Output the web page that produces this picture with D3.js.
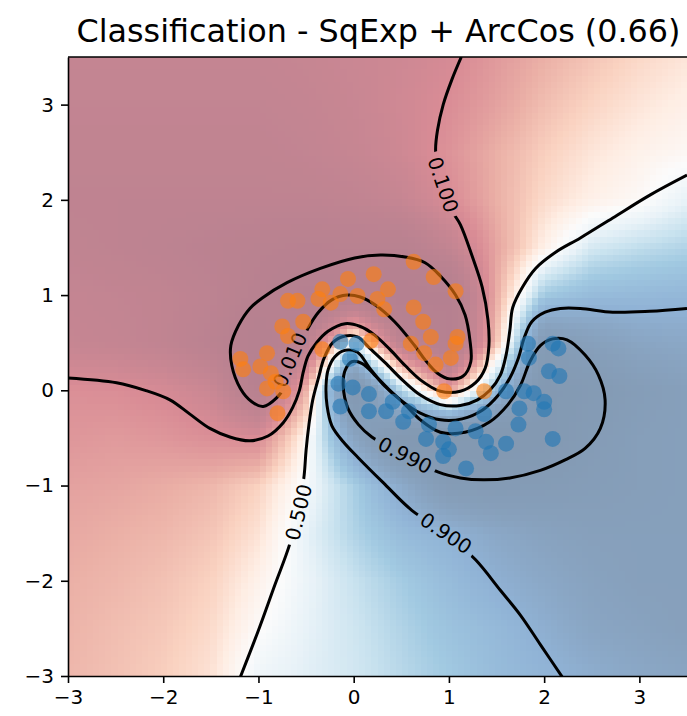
<!DOCTYPE html>
<html>
<head>
<meta charset="utf-8">
<script src="https://cdn.jsdelivr.net/npm/d3@7"></script>
<style>
  body { margin: 0; background: #fff; }
  text { font-family: "DejaVu Sans", sans-serif; }
</style>
</head>
<body>
<script>
// ---- data ---------------------------------------------------------------

// Predicted probability of the blue class on a coarse grid
// (columns: x from -3 to 3.5, rows: y from 3.5 down to -3, step 0.5)
const gridX = [-3, -2.5, -2, -1.5, -1, -0.5, 0, 0.5, 1, 1.5, 2, 2.5, 3, 3.5];
const gridY = [3.5, 3, 2.5, 2, 1.5, 1, 0.5, 0, -0.5, -1, -1.5, -2, -2.5, -3];
const probRows = [
  [0.045, 0.045, 0.045, 0.045, 0.045, 0.05, 0.06, 0.07, 0.09, 0.14, 0.2, 0.26, 0.32, 0.37],
  [0.04, 0.04, 0.04, 0.04, 0.04, 0.045, 0.055, 0.075, 0.105, 0.16, 0.24, 0.31, 0.37, 0.42],
  [0.035, 0.035, 0.035, 0.035, 0.035, 0.04, 0.05, 0.07, 0.12, 0.2, 0.29, 0.37, 0.43, 0.47],
  [0.03, 0.03, 0.03, 0.03, 0.03, 0.03, 0.035, 0.05, 0.1, 0.2, 0.33, 0.42, 0.48, 0.6],
  [0.035, 0.03, 0.025, 0.02, 0.016, 0.013, 0.015, 0.014, 0.04, 0.17, 0.42, 0.66, 0.72, 0.76],
  [0.045, 0.04, 0.035, 0.025, 0.012, 0.005, 0.008, 0.004, 0.006, 0.19, 0.8, 0.86, 0.87, 0.88],
  [0.05, 0.045, 0.035, 0.02, 0.006, 0.025, 0.6, 0.03, 0.006, 0.25, 0.985, 0.97, 0.95, 0.94],
  [0.11, 0.105, 0.09, 0.06, 0.012, 0.2, 0.995, 0.75, 0.15, 0.85, 0.995, 0.99, 0.98, 0.97],
  [0.13, 0.14, 0.13, 0.11, 0.1, 0.45, 0.95, 0.995, 0.997, 0.997, 0.995, 0.985, 0.975, 0.97],
  [0.16, 0.17, 0.19, 0.22, 0.3, 0.53, 0.78, 0.93, 0.985, 0.988, 0.985, 0.98, 0.975, 0.97],
  [0.18, 0.2, 0.22, 0.26, 0.36, 0.6, 0.76, 0.86, 0.9, 0.94, 0.96, 0.97, 0.97, 0.97],
  [0.2, 0.22, 0.25, 0.3, 0.43, 0.58, 0.7, 0.79, 0.86, 0.91, 0.94, 0.96, 0.97, 0.97],
  [0.21, 0.24, 0.27, 0.33, 0.49, 0.6, 0.68, 0.76, 0.83, 0.87, 0.915, 0.95, 0.96, 0.97],
  [0.22, 0.25, 0.29, 0.36, 0.57, 0.62, 0.67, 0.74, 0.8, 0.86, 0.89, 0.92, 0.94, 0.95]
];

// Training points, class 0 (orange)
const orangeX = [-0.06, 0.21, 0.63, 0.84, 1.07, -0.33, -0.14, -0.37, -0.69, -0.59, -0.24, 0.04, 0.25, 0.32, 0.36,
  -0.75, -0.53, -0.69, 0.63, 0.73, 0.81, 1.09, 1.07, 0.60, 0.74, 1.02, 0.86, 0.95, 1.37, -0.33, 0.18,
  -1.19, -1.16, -0.98, -0.91, -0.87, -0.91, -0.74, -0.80, -0.82];
const orangeY = [1.17, 1.22, 1.35, 1.19, 1.04, 1.06, 1.01, 0.96, 0.94, 0.94, 0.92, 0.99, 0.96, 0.85, 1.06,
  0.67, 0.72, 0.57, 0.87, 0.72, 0.56, 0.56, 0.49, 0.49, 0.39, 0.34, 0.27, -0.01, -0.01, 0.43, 0.52,
  0.33, 0.22, 0.25, 0.39, 0.18, 0.02, -0.01, -0.24, 0.09];

// Training points, class 1 (blue)
const blueX = [-0.14, 0.03, -0.04, -0.16, -0.01, 0.16, -0.14, 0.16, 0.34, 0.41, 0.52, 0.58, 0.79, 0.76, 0.94,
  1.00, 0.94, 1.07, 1.28, 1.39, 1.18, 1.44, 1.60, 1.37, 1.60, 1.79, 1.89, 1.74, 1.73, 2.00, 2.00, 2.09,
  1.83, 1.84, 2.09, 2.15, 2.05, 2.16];
const blueY = [0.51, 0.49, 0.33, 0.07, 0.03, -0.04, -0.17, -0.22, -0.22, -0.12, -0.33, -0.22, -0.36, -0.51, -0.54,
  -0.62, -0.69, -0.40, -0.43, -0.54, -0.82, -0.66, -0.56, -0.25, -0.01, -0.01, -0.03, -0.19, -0.36, -0.12, -0.20, -0.51,
  0.49, 0.34, 0.49, 0.44, 0.20, 0.15];

// Iso-probability lines
const contour010 = [[-0.95, -0.17], [-1.07, -0.12], [-1.19, 0.02], [-1.28, 0.26], [-1.29, 0.47], [-1.21, 0.68],
  [-1.09, 0.86], [-0.96, 0.97], [-0.70, 1.13], [-0.35, 1.28], [0.01, 1.39], [0.28, 1.42], [0.54, 1.40],
  [0.75, 1.34], [0.91, 1.20], [1.07, 1.00], [1.17, 0.79], [1.22, 0.53], [1.23, 0.30], [1.15, 0.15],
  [1.01, 0.12], [0.88, 0.18], [0.75, 0.32], [0.64, 0.47], [0.43, 0.72], [0.22, 0.90], [0.07, 0.98],
  [-0.07, 1.00], [-0.23, 0.95], [-0.37, 0.82], [-0.48, 0.65], [-0.56, 0.47], [-0.65, 0.26], [-0.72, 0.05],
  [-0.81, -0.08]];
const contour100 = [[1.13, 3.50], [1.03, 3.26], [0.94, 3.00], [0.88, 2.73], [0.86, 2.52], [0.89, 2.31],
  [0.94, 2.16], [1.03, 1.89], [1.12, 1.74], [1.24, 1.42], [1.35, 1.08], [1.41, 0.74], [1.42, 0.47],
  [1.38, 0.23], [1.28, 0.08], [1.12, -0.01], [0.91, -0.01], [0.70, 0.11], [0.54, 0.26], [0.38, 0.43],
  [0.22, 0.58], [0.07, 0.67], [-0.09, 0.70], [-0.27, 0.62], [-0.39, 0.50], [-0.48, 0.36], [-0.53, 0.19],
  [-0.57, 0.00], [-0.64, -0.18], [-0.74, -0.34], [-0.90, -0.48], [-1.09, -0.53], [-1.30, -0.49],
  [-1.51, -0.40], [-1.72, -0.25], [-1.93, -0.10], [-2.19, 0.00], [-2.49, 0.08], [-3.00, 0.13]];
const contour500 = [[3.50, 2.26], [3.11, 2.05], [2.72, 1.81], [2.38, 1.60], [2.12, 1.45], [1.91, 1.28],
  [1.77, 1.08], [1.67, 0.87], [1.64, 0.63], [1.60, 0.37], [1.54, 0.16], [1.43, 0.00], [1.30, -0.10],
  [1.12, -0.16], [0.91, -0.15], [0.70, -0.05], [0.51, 0.11], [0.33, 0.29], [0.17, 0.44], [0.04, 0.56],
  [-0.09, 0.57], [-0.22, 0.50], [-0.31, 0.34], [-0.37, 0.13], [-0.43, -0.10], [-0.47, -0.36],
  [-0.50, -0.63], [-0.52, -0.89], [-0.56, -1.16], [-0.67, -1.61], [-0.83, -2.05], [-1.00, -2.52],
  [-1.19, -3.01]];
const contour900 = [[3.50, 0.86], [3.11, 0.83], [2.72, 0.82], [2.38, 0.86], [2.17, 0.86], [2.01, 0.82],
  [1.87, 0.72], [1.79, 0.55], [1.73, 0.34], [1.64, 0.13], [1.52, -0.05], [1.35, -0.21], [1.14, -0.30],
  [0.91, -0.31], [0.70, -0.24], [0.49, -0.10], [0.33, 0.04], [0.17, 0.23], [0.04, 0.40], [-0.09, 0.42],
  [-0.20, 0.35], [-0.27, 0.21], [-0.29, 0.05], [-0.28, -0.16], [-0.23, -0.37], [-0.11, -0.54],
  [0.05, -0.71], [0.31, -0.97], [0.61, -1.26], [0.97, -1.50], [1.28, -1.78], [1.54, -2.10],
  [1.75, -2.36], [1.96, -2.67], [2.19, -3.01]];
const contour990 = [[-0.11, 0.05], [-0.09, 0.21], [-0.02, 0.30], [0.09, 0.28], [0.22, 0.16], [0.38, 0.00],
  [0.54, -0.15], [0.70, -0.31], [0.91, -0.44], [1.17, -0.44], [1.43, -0.33], [1.62, -0.15], [1.75, 0.05],
  [1.85, 0.30], [1.96, 0.47], [2.09, 0.54], [2.24, 0.53], [2.43, 0.37], [2.57, 0.16], [2.64, -0.10],
  [2.59, -0.40], [2.43, -0.61], [2.22, -0.73], [1.96, -0.84], [1.64, -0.92], [1.36, -0.94], [1.12, -0.92],
  [0.89, -0.86], [0.54, -0.68], [0.19, -0.49], [0.05, -0.36], [-0.06, -0.19]];

// Inline level labels: level and the point on the line where it sits
const labelLevels = [0.01, 0.1, 0.5, 0.9, 0.99];
const labelX = [-0.67, 0.94, -0.58, 0.97, 0.54];
const labelY = [0.32, 2.16, -1.28, -1.50, -0.68];

const tickValues = [-3, -2, -1, 0, 1, 2, 3];
const titleText = "Classification - SqExp + ArcCos (0.66)";

// ---- layout ---------------------------------------------------------------
const W = 687, H = 716;
const plotLeft = 68, plotTop = 57, plotSize = 619;

const x = d3.scaleLinear().domain([-3, 3.5]).range([plotLeft, plotLeft + plotSize]);
const y = d3.scaleLinear().domain([-3, 3.5]).range([plotTop + plotSize, plotTop]);

const svg = d3.select("body").append("svg")
  .attr("width", W).attr("height", H)
  .style("display", "block");
svg.append("rect").attr("width", W).attr("height", H).attr("fill", "#fff");

const defs = svg.append("defs");
defs.append("clipPath").attr("id", "plotClip").append("rect")
  .attr("x", x(-3)).attr("y", y(3.5))
  .attr("width", x(3.5) - x(-3)).attr("height", y(-3) - y(3.5));

// ---- probability heatmap (RdBu, half transparent over white) -------------------
const rdbuColors = ["#67001f", "#b2182b", "#d6604d", "#f4a582", "#fddbc7", "#f7f7f7",
  "#d1e5f0", "#92c5de", "#4393c3", "#2166ac", "#053061"];
const rdbu = d3.scaleLinear()
  .domain(d3.range(11).map(i => i / 10))
  .range(rdbuColors)
  .interpolate(d3.interpolateRgb)
  .clamp(true);

const logitRows = probRows.map(r => r.map(p => Math.log(p / (1 - p))));
function probAt(xv, yv) {
  const fx = (xv - gridX[0]) / (gridX[1] - gridX[0]);
  const fy = (gridY[0] - yv) / (gridY[0] - gridY[1]);
  const i0 = Math.max(0, Math.min(gridX.length - 2, Math.floor(fx)));
  const j0 = Math.max(0, Math.min(gridY.length - 2, Math.floor(fy)));
  const tx = fx - i0, ty = fy - j0;
  const v = (1 - ty) * ((1 - tx) * logitRows[j0][i0] + tx * logitRows[j0][i0 + 1]) +
            ty * ((1 - tx) * logitRows[j0 + 1][i0] + tx * logitRows[j0 + 1][i0 + 1]);
  return 1 / (1 + Math.exp(-v));
}

const N = 100;
const cellX = d3.scaleLinear().domain([0, N]).range([-3, 3.5]);
const cellY = d3.scaleLinear().domain([0, N]).range([3.5, -3]);
const canvas = document.createElement("canvas");
canvas.width = N; canvas.height = N;
const ctx = canvas.getContext("2d");
const img = ctx.createImageData(N, N);
const alpha = 0.5;
for (let j = 0; j < N; j++) {
  for (let i = 0; i < N; i++) {
    const c = d3.rgb(rdbu(probAt(cellX(i + 0.5), cellY(j + 0.5))));
    const k = 4 * (j * N + i);
    img.data[k] = Math.round(alpha * c.r + (1 - alpha) * 255);
    img.data[k + 1] = Math.round(alpha * c.g + (1 - alpha) * 255);
    img.data[k + 2] = Math.round(alpha * c.b + (1 - alpha) * 255);
    img.data[k + 3] = 255;
  }
}
ctx.putImageData(img, 0, 0);

const plotG = svg.append("g").attr("clip-path", "url(#plotClip)");
plotG.append("image")
  .attr("href", canvas.toDataURL())
  .attr("x", x(-3)).attr("y", y(3.5))
  .attr("width", x(3.5) - x(-3)).attr("height", y(-3) - y(3.5))
  .attr("preserveAspectRatio", "none")
  .style("image-rendering", "pixelated");

// ---- contour lines with inline labels -------------------------------------
const contours = [
  { level: 0.01, pts: contour010, closed: true },
  { level: 0.1, pts: contour100, closed: false },
  { level: 0.5, pts: contour500, closed: false },
  { level: 0.9, pts: contour900, closed: false },
  { level: 0.99, pts: contour990, closed: true }
];
const fmtLevel = d3.format(".3f");

const maskSel = defs.append("mask").attr("id", "labelGaps")
  .attr("maskUnits", "userSpaceOnUse")
  .attr("x", 0).attr("y", 0).attr("width", W).attr("height", H);
maskSel.append("rect").attr("width", W).attr("height", H).attr("fill", "#fff");

const lineG = plotG.append("g").attr("mask", "url(#labelGaps)");
contours.forEach(c => {
  const gen = d3.line()
    .x(d => x(d[0])).y(d => y(d[1]))
    .curve(c.closed ? d3.curveCatmullRomClosed.alpha(0.5) : d3.curveCatmullRom.alpha(0.5));
  lineG.append("path")
    .attr("d", gen(c.pts))
    .attr("fill", "none")
    .attr("stroke", "#000")
    .attr("stroke-width", 3)
    .attr("stroke-linejoin", "round");
});

// angle of the line at a label, from the nearest segment
function angleAt(pts, closed, px, py) {
  let best = Infinity, ang = 0;
  const n = pts.length;
  const m = closed ? n : n - 1;
  for (let i = 0; i < m; i++) {
    const a = pts[i], b = pts[(i + 1) % n];
    const ax = x(a[0]), ay = y(a[1]), bx = x(b[0]), by = y(b[1]);
    const dx = bx - ax, dy = by - ay;
    const t = Math.max(0, Math.min(1, ((px - ax) * dx + (py - ay) * dy) / (dx * dx + dy * dy)));
    const qx = ax + t * dx, qy = ay + t * dy;
    const d = (qx - px) ** 2 + (qy - py) ** 2;
    if (d < best) { best = d; ang = Math.atan2(dy, dx) * 180 / Math.PI; }
  }
  if (ang > 90) ang -= 180;
  if (ang <= -90) ang += 180;
  return ang;
}

const labelG = plotG.append("g");
labelLevels.forEach((lv, i) => {
  const c = contours.find(d => d.level === lv);
  const px = x(labelX[i]), py = y(labelY[i]);
  const ang = angleAt(c.pts, c.closed, px, py);
  const t = labelG.append("text")
    .attr("transform", `translate(${px},${py}) rotate(${ang})`)
    .attr("text-anchor", "middle")
    .attr("dy", "0.36em")
    .attr("font-size", 20)
    .attr("fill", "#000")
    .text(fmtLevel(lv));
  const w = t.node().getComputedTextLength();
  maskSel.append("rect")
    .attr("x", -w / 2 - 5).attr("y", -10)
    .attr("width", w + 10).attr("height", 20)
    .attr("transform", `translate(${px},${py}) rotate(${ang})`)
    .attr("fill", "#000");
});

// ---- scatter ----------------------------------------------------------------
const pointsG = plotG.append("g");
pointsG.selectAll("circle.orange")
  .data(d3.range(orangeX.length))
  .join("circle")
  .attr("class", "orange")
  .attr("cx", i => x(orangeX[i])).attr("cy", i => y(orangeY[i]))
  .attr("r", 8)
  .attr("fill", "#ff7f0e").attr("fill-opacity", 0.6);
pointsG.selectAll("circle.blue")
  .data(d3.range(blueX.length))
  .join("circle")
  .attr("class", "blue")
  .attr("cx", i => x(blueX[i])).attr("cy", i => y(blueY[i]))
  .attr("r", 8)
  .attr("fill", "#1f77b4").attr("fill-opacity", 0.6);

// ---- axes -------------------------------------------------------------------
const tickFmt = d3.format("d");
const xAxis = d3.axisBottom(x).tickValues(tickValues).tickFormat(tickFmt)
  .tickSize(7).tickSizeOuter(0).tickPadding(7);
const yAxis = d3.axisLeft(y).tickValues(tickValues).tickFormat(tickFmt)
  .tickSize(7).tickSizeOuter(0).tickPadding(7);

const gx = svg.append("g").attr("transform", `translate(0,${y(-3)})`).call(xAxis);
const gy = svg.append("g").attr("transform", `translate(${x(-3)},0)`).call(yAxis);
[gx, gy].forEach(g => {
  g.selectAll("text").attr("font-size", 20).attr("font-family", "DejaVu Sans").attr("fill", "#000");
  g.selectAll("line").attr("stroke", "#000").attr("stroke-width", 1.6);
  g.select(".domain").attr("stroke", "#000").attr("stroke-width", 1.6);
});

// top frame
svg.append("line")
  .attr("x1", x(-3)).attr("x2", x(3.5)).attr("y1", y(3.5)).attr("y2", y(3.5))
  .attr("stroke", "#000").attr("stroke-width", 1.6);

// ---- title ------------------------------------------------------------------
svg.append("text")
  .attr("x", (x(-3) + x(3.5)) / 2 + 1)
  .attr("y", 42)
  .attr("text-anchor", "middle")
  .attr("font-size", 31.8)
  .attr("fill", "#000")
  .text(titleText);
</script>
</body>
</html>
